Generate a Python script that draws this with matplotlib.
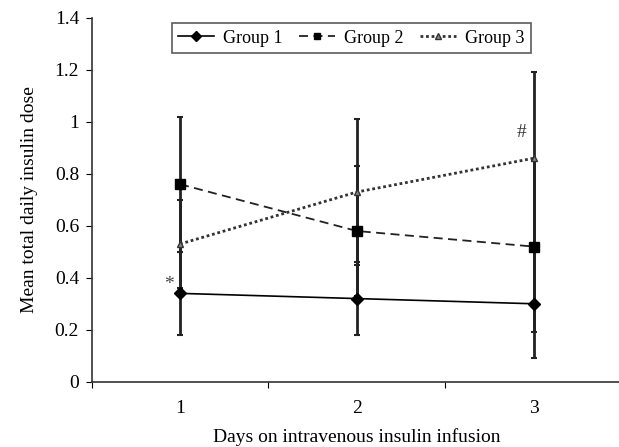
import matplotlib
matplotlib.use('Agg')
import matplotlib.pyplot as plt
from matplotlib.lines import Line2D

days = [1, 2, 3]
day_labels = ['1', '2', '3']

g1_mean = [0.34, 0.32, 0.30]
g1_err = [0.16, 0.14, 0.21]
g2_mean = [0.76, 0.58, 0.52]
g2_err = [0.26, 0.25, 0.33]
g3_mean = [0.53, 0.73, 0.86]
g3_err = [0.17, 0.28, 0.33]

yticks = [0, 0.2, 0.4, 0.6, 0.8, 1, 1.2, 1.4]
ytick_labels = ['0', '0.2', '0.4', '0.6', '0.8', '1', '1.2', '1.4']

plt.rcParams['font.family'] = ['Liberation Serif', 'DejaVu Serif']

fig = plt.figure(figsize=(6.19, 4.47), dpi=100)
ax = fig.add_axes([0.148, 0.146, 0.857, 0.814])

ebar = dict(ecolor='#222222', elinewidth=2, capsize=2.5, capthick=1.5)

styles = [
    dict(color='black', lw=1.2, ls='-', marker='D', ms=6, mfc='black', mec='black'),
    dict(color='#222222', lw=1.3, ls=(0, (5, 3)), marker='s', ms=7, mfc='black', mec='black'),
    dict(color='#333333', lw=2, ls=(0, (1, 1)), marker='^', ms=5, mfc='#888888', mec='#333333'),
]
names = ['Group 1', 'Group 2', 'Group 3']

for mean, err, st in zip([g1_mean, g2_mean, g3_mean], [g1_err, g2_err, g3_err], styles):
    ax.errorbar(days, mean, yerr=err, **st, **ebar)

ax.text(days[0] - 0.06, g1_mean[0] + 0.035, '*', fontsize=14, color='#444444',
        ha='center', va='center')
ax.text(days[2] - 0.07, g3_mean[2] + 0.1, '#', fontsize=14, color='#333333',
        ha='center', va='center')

ax.set_xlim(0.5, 3.5)
ax.set_ylim(0, 1.4)
ax.set_xticks([0.5, 1.5, 2.5, 3.5])
ax.set_xticklabels([])
ax.set_xticks(days, minor=True)
ax.set_xticklabels(day_labels, minor=True)
ax.tick_params(axis='x', which='minor', length=0, pad=13, labelsize=14)
ax.tick_params(axis='x', which='major', direction='out', length=4)
ax.set_yticks(yticks)
ax.set_yticklabels(ytick_labels)
ax.tick_params(axis='y', direction='out', length=4, pad=5, labelsize=14)

for side in ['top', 'right']:
    ax.spines[side].set_visible(False)
for side in ['left', 'bottom']:
    ax.spines[side].set_color('#333333')
    ax.spines[side].set_linewidth(1.2)

ax.set_xlabel('Days on intravenous insulin infusion', fontsize=14, labelpad=8)
ax.set_ylabel('Mean total daily insulin dose', fontsize=14, labelpad=12)

handles = [Line2D([], [], **st) for st in styles]
for h in handles:
    h.set_markersize(5)
leg = ax.legend(handles, names, loc='upper center', bbox_to_anchor=(0.49, 1.01), ncol=3,
                fontsize=13, frameon=True, fancybox=False, edgecolor='#333333',
                handlelength=2.0, handletextpad=0.5, columnspacing=0.9, borderpad=0.35)
leg.get_frame().set_linewidth(1.2)

plt.savefig('out.png', dpi=100)
